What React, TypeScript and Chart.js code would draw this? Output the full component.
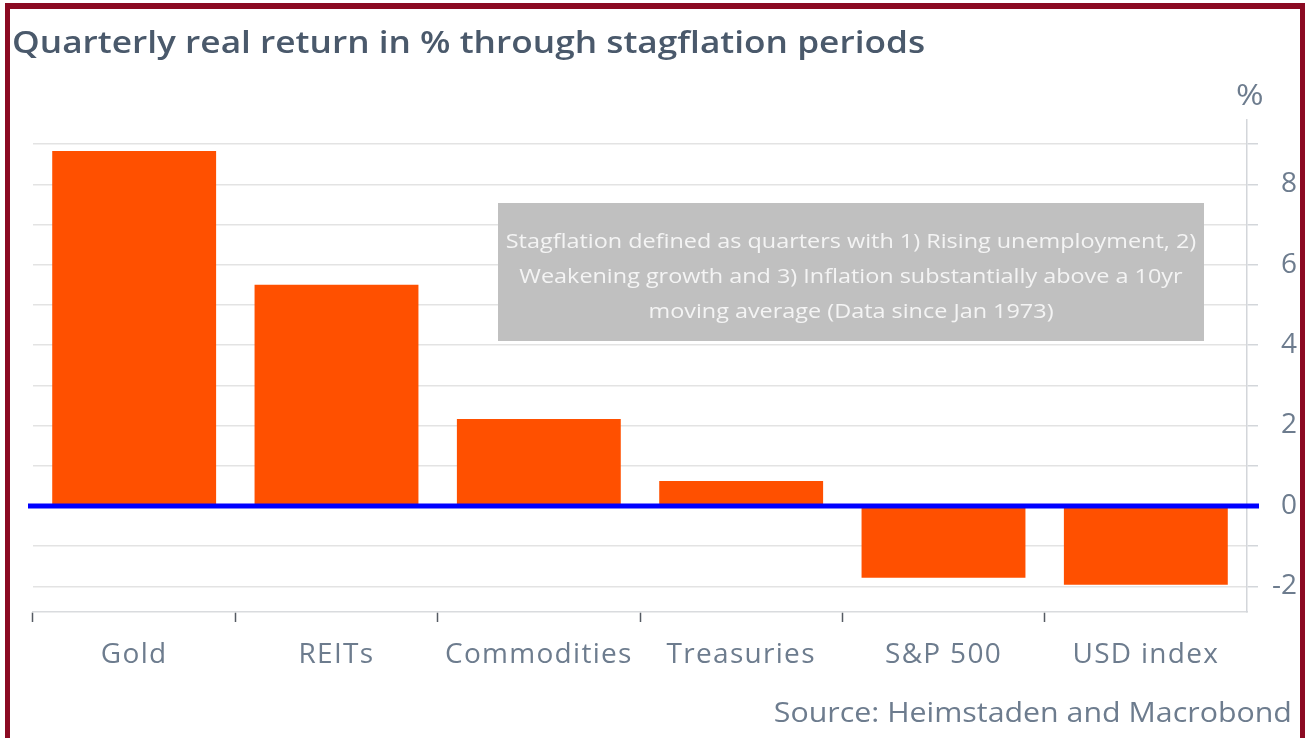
import React, { useEffect, useRef } from "react";
import { Chart, registerables } from "chart.js";

Chart.register(...registerables);

const categories = ["Gold", "REITs", "Commodities", "Treasuries", "S&P 500", "USD index"];
const realReturns = [8.83, 5.5, 2.16, 0.62, -1.79, -1.96];
const yMin = -2.64;
const yMax = 9.6;
const titleText = "Quarterly real return in % through stagflation periods";
const unitText = "%";
const sourceText = "Source: Heimstaden and Macrobond";
const noteLines = [
  "Stagflation defined as quarters with 1) Rising unemployment, 2)",
  "Weakening growth and 3) Inflation substantially above a 10yr",
  "moving average (Data since Jan 1973)",
];

const FONT = "'Open Sans', 'Noto Sans', sans-serif";
const LABEL_COLOR = "#6d7c8e";

const spacingPlugin = {
  id: "labelSpacing",
  beforeDraw(chart: any) {
    chart.ctx.letterSpacing = "1.3px";
  },
  beforeDatasetsDraw(chart: any) {
    chart.ctx.letterSpacing = "0px";
  },
};

const zeroLinePlugin = {
  id: "zeroLine",
  afterDatasetsDraw(chart: any) {
    const y = chart.scales.y.getPixelForValue(0);
    const { left, right } = chart.chartArea;
    const ctx = chart.ctx;
    ctx.save();
    ctx.strokeStyle = "#0000ff";
    ctx.lineWidth = 5;
    ctx.beginPath();
    ctx.moveTo(left - 5, y);
    ctx.lineTo(right + 12, y);
    ctx.stroke();
    ctx.restore();
  },
};

export default function App() {
  const canvasRef = useRef<HTMLCanvasElement | null>(null);

  useEffect(() => {
    if (!canvasRef.current) return;
    const chart = new Chart(canvasRef.current, {
      type: "bar",
      data: {
        labels: categories,
        datasets: [
          {
            data: realReturns,
            backgroundColor: "#ff5000",
            borderWidth: 0,
            barPercentage: 0.81,
            categoryPercentage: 1,
          },
        ],
      },
      plugins: [spacingPlugin, zeroLinePlugin],
      options: {
        animation: false,
        responsive: false,
        maintainAspectRatio: false,
        layout: { padding: { left: 33, top: 120, right: 12, bottom: 56 } },
        plugins: { legend: { display: false }, tooltip: { enabled: false }, title: { display: false } },
        scales: {
          x: {
            type: "category",
            offset: true,
            grid: {
              offset: true,
              drawOnChartArea: false,
              drawTicks: true,
              tickLength: 10,
              tickWidth: 1.5,
              tickColor: (ctx: any) => (ctx.type === "tick" ? "#555b63" : "rgba(0,0,0,0)"),
            },
            border: { display: true, color: "#d9dbde", width: 1.5 },
            ticks: {
              color: LABEL_COLOR,
              font: { family: FONT, size: 28 },
              padding: 16,
              maxRotation: 0,
              autoSkip: false,
            },
            afterFit: (scale: any) => {
              scale.height = 70;
            },
          },
          y: {
            type: "linear",
            position: "right",
            min: yMin,
            max: yMax,
            grid: {
              color: "#e3e3e3",
              lineWidth: 1.5,
              drawTicks: true,
              tickLength: 11,
              tickColor: "#d3d6da",
            },
            border: { display: true, color: "#d3d6da", width: 1.5 },
            ticks: {
              z: 1,
              stepSize: 1,
              includeBounds: false,
              color: LABEL_COLOR,
              font: { family: FONT, size: 28 },
              crossAlign: "far",
              padding: 4,
              callback: (v: any) => (Number(v) % 2 === 0 ? String(v) : ""),
            },
            afterFit: (scale: any) => {
              scale.width = 50;
            },
          },
        },
      },
    });
    return () => chart.destroy();
  }, []);

  return (
    <div
      style={{
        position: "fixed",
        left: 0,
        top: 0,
        width: 1309,
        height: 738,
        background: "#ffffff",
        overflow: "hidden",
        fontFamily: FONT,
      }}
    >
      <canvas ref={canvasRef} width={1309} height={738} style={{ position: "absolute", left: 0, top: 0 }} />
      <div
        style={{
          position: "absolute",
          left: 12,
          top: 22,
          fontSize: 30,
          fontWeight: 600,
          color: "#4a596b",
          whiteSpace: "nowrap",
          lineHeight: "40px",
          transform: "scaleX(1.175)",
          transformOrigin: "left center",
        }}
      >
        {titleText}
      </div>
      <div
        style={{
          position: "absolute",
          left: 1236,
          top: 74,
          fontSize: 29,
          color: LABEL_COLOR,
          lineHeight: "40px",
          transform: "scaleX(1.15)",
          transformOrigin: "left center",
        }}
      >
        {unitText}
      </div>
      <div
        style={{
          position: "absolute",
          right: 17,
          top: 692,
          fontSize: 27,
          color: LABEL_COLOR,
          lineHeight: "40px",
          whiteSpace: "nowrap",
          transform: "scaleX(1.124)",
          transformOrigin: "right center",
        }}
      >
        {sourceText}
      </div>
      <div
        style={{
          position: "absolute",
          left: 498,
          top: 203,
          width: 706,
          height: 138,
          background: "#c0c0c0",
          color: "#f4f4f4",
          fontSize: 20,
          lineHeight: "35px",
          textAlign: "center",
          boxSizing: "border-box",
          paddingTop: 20,
        }}
      >
        {noteLines.map((l, i) => (
          <div key={i} style={{ whiteSpace: "nowrap", transform: "scaleX(1.17)", transformOrigin: "center center" }}>
            {l}
          </div>
        ))}
      </div>
      <div
        style={{
          position: "absolute",
          left: 5,
          top: 3,
          width: 1300,
          height: 800,
          boxSizing: "border-box",
          borderTop: "6px solid #8b0a22",
          borderLeft: "5px solid #8b0a22",
          borderRight: "5px solid #8b0a22",
          pointerEvents: "none",
        }}
      />
    </div>
  );
}
